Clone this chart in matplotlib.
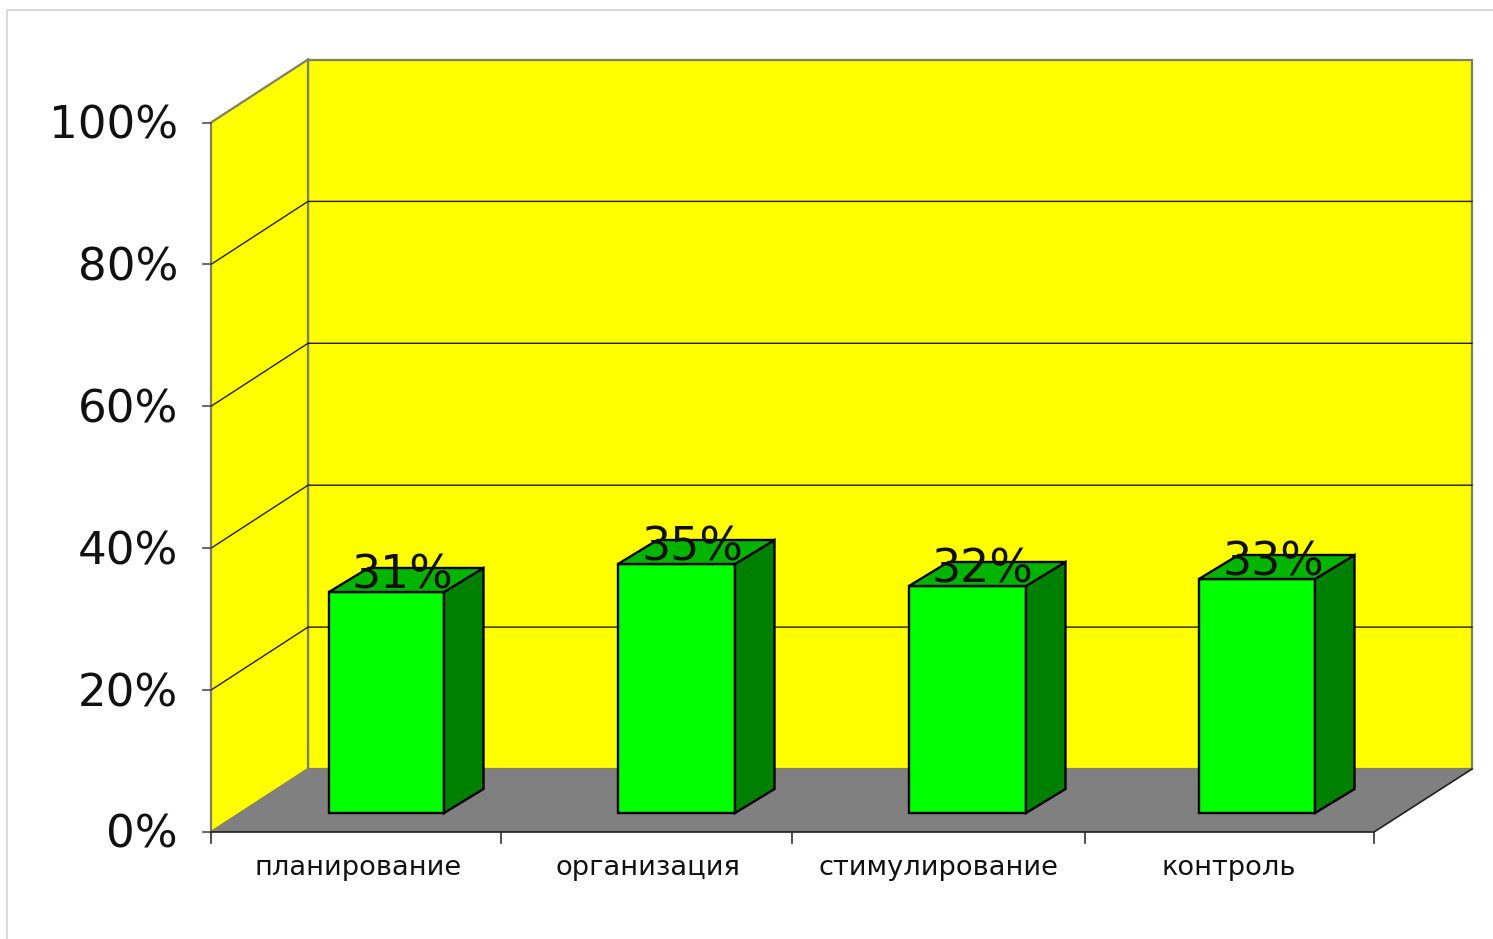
import matplotlib
matplotlib.use("Agg")
import matplotlib.pyplot as plt
from matplotlib.patches import Polygon, Rectangle

categories = ["планирование", "организация", "стимулирование", "контроль"]
values = [31, 35, 32, 33]
y_ticks = [0, 20, 40, 60, 80, 100]
y_labels = ["0%", "20%", "40%", "60%", "80%", "100%"]

W, H = 1493, 939
plt.rcParams['font.family'] = ['DejaVu Sans']
fig = plt.figure(figsize=(W/100, H/100), dpi=100, facecolor='white')
ax = fig.add_axes([0, 0, 1, 1])
ax.set_xlim(0, W); ax.set_ylim(H, 0); ax.axis('off')

# frame geometry (pixels)
x0, x1 = 211, 1374      # front floor edge
y0 = 832                # 0 %
ytop = 122.5            # 100 %
dx, dy = 97, -63        # depth
def Y(v): return y0 + (ytop - y0) * v / 100

ax.plot([6.5, 6.5, W], [H, 10, 10], color='#d4d4d4', lw=1.2, zorder=0)
# walls
wall = '#807f60'
ax.add_patch(Polygon([(x0+dx, y0+dy), (x1+dx+1, y0+dy), (x1+dx+1, ytop+dy), (x0+dx, ytop+dy)], fc='#ffff00', ec=wall, lw=1.6, zorder=1))
ax.add_patch(Polygon([(x0, y0), (x0+dx, y0+dy), (x0+dx, ytop+dy), (x0, ytop)], fc='#ffff00', ec=wall, lw=1.6, zorder=1))
ax.add_patch(Polygon([(x0, y0), (x1, y0), (x1+dx+1, y0+dy), (x0+dx, y0+dy)], fc='#808080', ec='none', zorder=2))
ax.plot([x0, x1, x1+dx+1], [y0, y0, y0+dy], color='#202020', lw=1.2, zorder=3)

for t, lab in zip(y_ticks, y_labels):
    y = Y(t)
    if 0 < t < 100:
        ax.plot([x0, x0+dx, x1+dx+1], [y, y+dy, y+dy], color='#202000', lw=1.0, zorder=3)
    ax.plot([x0-8, x0], [y, y], color='#505050', lw=1.2, zorder=3)
    ax.text(178, y+3.5, lab, ha='right', va='center', fontsize=32.5, color='#111111')

# category ticks
edges = [211, 501, 792, 1085, 1374]
for e in edges:
    ax.plot([e, e], [y0, y0+11], color='#303030', lw=1.2, zorder=3)

bar_l = [329, 618, 909, 1199]
bar_r = [444, 735, 1026, 1315]
bdx, bdy = 39.5, -24
base = 813
bar_tops = [592, 564, 586, 579]
label_x = [402.5, 692.5, 982.5, 1273.5]
cat_x = [358.5, 648, 938.5, 1229]
for i, v in enumerate(values):
    l, r, t = bar_l[i], bar_r[i], bar_tops[i]
    ax.add_patch(Polygon([(l, base), (r, base), (r, t), (l, t)], fc='#00ff00', ec='black', lw=1.7, zorder=4))
    ax.add_patch(Polygon([(r, base), (r+bdx, base+bdy), (r+bdx, t+bdy), (r, t)], fc='#008000', ec='black', lw=1.7, zorder=4))
    ax.add_patch(Polygon([(l, t), (r, t), (r+bdx, t+bdy), (l+bdx, t+bdy)], fc='#00b400', ec='black', lw=1.7, zorder=4))
    ax.text(label_x[i], t-16, f"{v}%", ha='center', va='center', fontsize=33, color='#101000', zorder=5)
    ax.text(cat_x[i], 868, categories[i], ha='center', va='center', fontsize=19.6, color='#111111')

fig.savefig("out.png", dpi=100)
